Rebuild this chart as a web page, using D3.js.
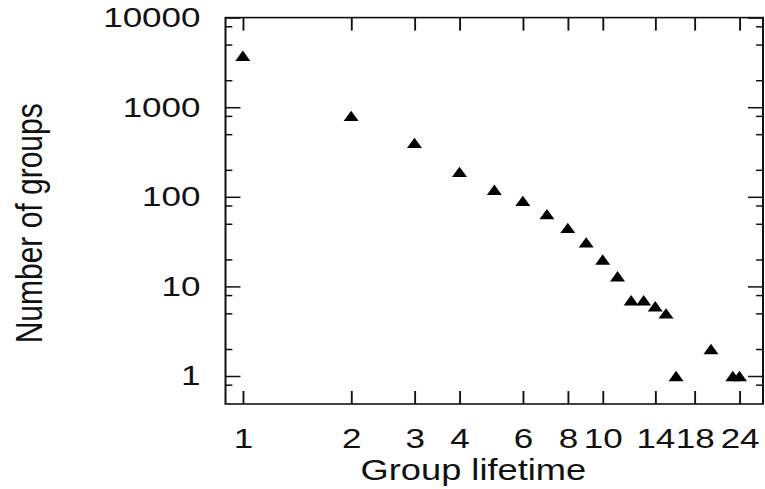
<!DOCTYPE html>
<html>
<head>
<meta charset="utf-8">
<script src="https://cdn.jsdelivr.net/npm/d3@7"></script>
<style>
  body { margin: 0; background: #fff; }
  text { font-family: "Liberation Sans", Arial, sans-serif; fill: #111; }
</style>
</head>
<body>
<div id="vis"><svg></svg></div>
<script>
// data
var lifetimes = [1, 2, 3, 4, 5, 6, 7, 8, 9, 10, 11, 12, 13, 14, 15, 16, 20, 23, 24];
var groupCounts = [3750, 800, 400, 190, 120, 90, 64, 45, 31, 20, 13, 7, 7, 6, 5, 1, 2, 1, 1];
var xTickValues = [1, 2, 3, 4, 6, 8, 10, 14, 18, 24];
var yTickValues = [1, 10, 100, 1000, 10000];
var yMinorSteps = [2, 5, 8];

// the original picture is stretched sideways, so draw in a narrower box and let the svg stretch it
var stretch = 1.25,
    W = 765, H = 489,
    vbW = W / stretch;

var frame = {left: 180.4, right: 610.4, top: 17.6, bottom: 404};

var svg = d3.select("#vis").select("svg")
    .attr("width", W)
    .attr("height", H)
    .attr("viewBox", "0 0 " + vbW + " " + H)
    .attr("preserveAspectRatio", "none");

var x = d3.scaleLog()
    .domain([0.895, 27.9])
    .range([frame.left, frame.right]);

var y = d3.scaleLog()
    .domain([0.487, 10000])
    .range([frame.bottom, frame.top]);

var data = lifetimes.map(function(d, i) { return {life: d, count: groupCounts[i]}; });

// minor y ticks: 2, 5, 8 in every decade that is inside the frame
var yMinor = [];
[0.1, 1, 10, 100, 1000].forEach(function(dec) {
  yMinorSteps.forEach(function(s) {
    var v = dec * s;
    if (v > y.domain()[0] * 1.05 && v < y.domain()[1]) yMinor.push(v);
  });
});

var innerH = frame.bottom - frame.top,
    innerW = frame.right - frame.left;

// bottom axis with labels, ticks pointing inward
svg.append("g")
  .attr("transform", "translate(0," + frame.bottom + ")")
  .call(d3.axisBottom(x).tickValues(xTickValues).tickSize(-13).tickPadding(24)
    .tickFormat(d3.format("d")));

// top axis, ticks only
svg.append("g")
  .attr("transform", "translate(0," + frame.top + ")")
  .call(d3.axisTop(x).tickValues(xTickValues).tickSize(-13).tickFormat(""));

// left axis with labels
svg.append("g")
  .attr("transform", "translate(" + frame.left + ",0)")
  .call(d3.axisLeft(y).tickValues(yTickValues).tickSize(-12).tickPadding(20)
    .tickFormat(d3.format("d")));

svg.append("g")
  .attr("transform", "translate(" + frame.left + ",0)")
  .call(d3.axisLeft(y).tickValues(yMinor).tickSize(-5.5).tickFormat(""));

// right side ticks
svg.append("g")
  .attr("transform", "translate(" + frame.right + ",0)")
  .call(d3.axisRight(y).tickValues(yTickValues).tickSize(-12).tickFormat(""));

svg.append("g")
  .attr("transform", "translate(" + frame.right + ",0)")
  .call(d3.axisRight(y).tickValues(yMinor).tickSize(-5.5).tickFormat(""));

svg.selectAll(".domain").remove();
svg.selectAll(".tick line")
  .attr("stroke", "#111")
  .attr("stroke-width", 1.5);
svg.selectAll(".tick text")
  .style("font-size", "28px")
  .style("font-family", "'Liberation Sans', Arial, sans-serif")
  .attr("fill", "#111");

// frame
svg.append("rect")
  .attr("x", frame.left)
  .attr("y", frame.top)
  .attr("width", innerW)
  .attr("height", innerH)
  .attr("fill", "none")
  .attr("stroke", "#111")
  .attr("stroke-width", 1.6);

// triangles, centred on their bounding box
var side = 12, tri = side * Math.sqrt(3) / 2;
var triPath = "M0," + (-tri / 2) + "L" + (side / 2) + "," + (tri / 2) + "L" + (-side / 2) + "," + (tri / 2) + "Z";

svg.selectAll("myPoints")
  .data(data)
  .enter()
  .append("path")
    .attr("d", triPath)
    .attr("transform", function(d) { return "translate(" + x(d.life) + "," + y(d.count) + ")"; })
    .attr("fill", "#000");

// axis titles
svg.append("text")
  .attr("x", 378.7)
  .attr("y", 480.5)
  .attr("text-anchor", "middle")
  .style("font-size", "29px")
  .text("Group lifetime");

svg.append("text")
  .attr("transform", "rotate(-90)")
  .attr("x", -223.3)
  .attr("y", 33.4)
  .attr("text-anchor", "middle")
  .style("font-size", "30px")
  .text("Number of groups");
</script>
</body>
</html>
